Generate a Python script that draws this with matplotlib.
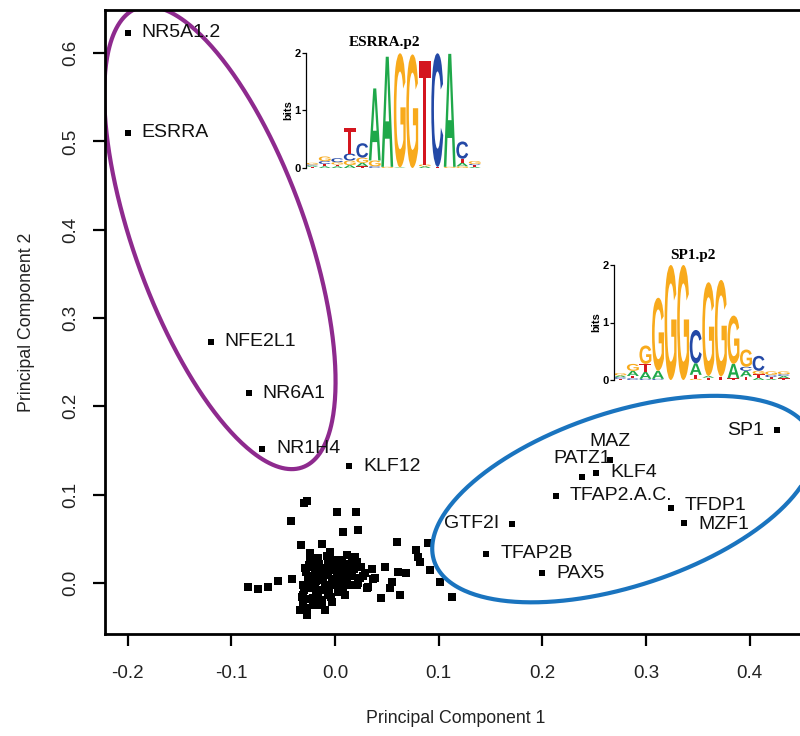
import numpy as np
import matplotlib
matplotlib.use("Agg")
import matplotlib.pyplot as plt
from matplotlib.textpath import TextPath
from matplotlib.patches import PathPatch
from matplotlib.font_manager import FontProperties
import matplotlib.transforms as mtrans

plt.rcParams['font.family'] = ['Liberation Sans', 'DejaVu Sans']
plt.rcParams['axes.unicode_minus'] = False

# named motifs on the first two principal components
names = ['NR5A1.2', 'ESRRA', 'NFE2L1', 'NR6A1', 'NR1H4', 'KLF12', 'SP1', 'MAZ',
         'PATZ1', 'KLF4', 'TFAP2.A.C.', 'TFDP1', 'MZF1', 'GTF2I', 'TFAP2B', 'PAX5']
pc1_named = [-0.200, -0.200, -0.120, -0.083, -0.070, 0.0135, 0.426, 0.265,
             0.238, 0.252, 0.213, 0.324, 0.337, 0.171, 0.146, 0.200]
pc2_named = [0.623, 0.510, 0.273, 0.215, 0.152, 0.132, 0.173, 0.139,
             0.120, 0.125, 0.0985, 0.085, 0.068, 0.067, 0.033, 0.011]
# where each label sits: r = right, l = left, t = above
label_side = ['r', 'r', 'r', 'r', 'r', 'r', 'l', 't',
              't', 'r', 'r', 'r', 'r', 'l', 'r', 'r']
# small vertical nudges (points) for crowded labels
label_dy = [0, 0, 0, 0, 0, 0, 0, 0,
            0, 0, 0, 2, -1, 0, 0, 0]

# remaining motifs (unlabelled)
pc1_other = [-0.030, -0.027, -0.042, 0.002, 0.008, -0.033, -0.013, -0.084, -0.074, -0.065,
             -0.055, -0.041, 0.020, 0.022, 0.060, 0.090, 0.078, 0.080, 0.082, 0.048,
             0.061, 0.068, 0.036, 0.037, 0.027, 0.055, 0.053, 0.063, 0.044, 0.032,
             0.092, 0.101, 0.113, -0.024, -0.029, -0.031, -0.027, -0.021, -0.016, -0.007,
             0.000, 0.012, 0.016, 0.021, 0.029, 0.039, 0.031, 0.021, 0.012, 0.003,
             -0.003, -0.013, -0.019, -0.012, -0.019, -0.007, 0.000, 0.005, -0.010, -0.022,
             -0.026, -0.016, -0.002, -0.007, 0.008, 0.014, 0.024, -0.017, 0.007, -0.031,
             -0.032, -0.021, -0.013, 0.007, 0.019, -0.024, -0.005, -0.014, 0.010, -0.034,
             -0.027, -0.010, -0.031,
             -0.025, -0.020, -0.015, -0.010, -0.005, 0.002, 0.008, 0.010, 0.005, -0.003,
             -0.012, -0.020, -0.028, -0.023, -0.018, -0.010, -0.004, 0.003, 0.015, 0.018,
             0.012, -0.008, -0.016, -0.026, -0.030, -0.025, -0.015, -0.006, 0.000, 0.006,
             -0.012, -0.018, 0.004, -0.001, 0.016, -0.008, -0.020, -0.028, 0.025, 0.022]
pc2_other = [0.091, 0.093, 0.070, 0.080, 0.058, 0.043, 0.044, -0.005, -0.007, -0.005,
             0.002, 0.005, 0.080, 0.060, 0.046, 0.045, 0.037, 0.029, 0.024, 0.018,
             0.012, 0.011, 0.016, 0.005, 0.008, 0.001, -0.006, -0.014, -0.017, -0.005,
             0.015, 0.001, -0.016, 0.026, 0.017, -0.014, -0.034, -0.023, -0.010, 0.009,
             0.026, 0.032, 0.023, 0.024, 0.011, 0.006, -0.006, -0.002, 0.006, -0.010,
             -0.022, -0.025, 0.001, 0.017, 0.012, 0.024, 0.017, 0.007, -0.002, -0.006,
             0.007, 0.006, -0.002, -0.014, -0.005, 0.012, 0.006, 0.020, 0.020, -0.002,
             -0.016, -0.017, -0.019, 0.026, 0.029, 0.034, 0.035, -0.008, -0.014, -0.031,
             -0.036, -0.031, -0.025,
             0.020, 0.018, 0.022, 0.010, 0.015, 0.012, 0.015, 0.002, -0.002, 0.004,
             0.003, 0.008, 0.012, -0.002, -0.012, -0.008, -0.016, -0.006, -0.002, 0.016,
             0.022, 0.030, 0.028, 0.004, -0.008, -0.018, -0.020, -0.010, 0.000, 0.004,
             0.014, 0.002, 0.020, 0.025, 0.008, -0.002, -0.025, -0.028, 0.018, 0.000]

x_ticks = [-0.2, -0.1, 0.0, 0.1, 0.2, 0.3, 0.4]
y_ticks = [0.0, 0.1, 0.2, 0.3, 0.4, 0.5, 0.6]

# cluster outlines: centre (PC1, PC2), semi-axes and tilt in screen pixels
ell_purple = dict(center=(-0.111, 0.391), a=244, b=86, angle=109.8, color='#8e2a8e')
ell_blue = dict(center=(0.278, 0.095), a=199, b=87, angle=18.1, color='#1a74bf')

# motif logos: one list of (base, bits) per position, stacked bottom-up
esrra_logo = [
    [('T', 0.02), ('A', 0.02), ('C', 0.02), ('G', 0.03)],
    [('A', 0.03), ('T', 0.04), ('C', 0.05), ('G', 0.08)],
    [('A', 0.03), ('T', 0.03), ('G', 0.04), ('C', 0.07)],
    [('A', 0.05), ('G', 0.08), ('C', 0.12), ('T', 0.45)],
    [('T', 0.03), ('A', 0.06), ('G', 0.09), ('C', 0.25)],
    [('C', 0.03), ('G', 0.10), ('A', 1.25)],
    [('G', 0.02), ('A', 1.91)],
    [('A', 0.01), ('G', 1.98)],
    [('G', 1.97)],
    [('A', 0.03), ('G', 0.03), ('T', 1.79)],
    [('T', 0.02), ('C', 1.97)],
    [('G', 0.02), ('A', 1.96)],
    [('G', 0.03), ('A', 0.06), ('T', 0.07), ('C', 0.30)],
    [('A', 0.02), ('T', 0.03), ('C', 0.02), ('G', 0.05)],
]
sp1_logo = [
    [('T', 0.02), ('C', 0.03), ('A', 0.03), ('G', 0.04)],
    [('C', 0.03), ('T', 0.04), ('A', 0.09), ('G', 0.12)],
    [('C', 0.02), ('A', 0.12), ('T', 0.14), ('G', 0.32)],
    [('C', 0.02), ('A', 0.14), ('G', 1.27)],
    [('G', 2.00)],
    [('G', 2.00)],
    [('G', 0.02), ('T', 0.07), ('A', 0.20), ('C', 0.58)],
    [('T', 0.04), ('A', 0.03), ('G', 1.63)],
    [('T', 0.06), ('G', 1.68)],
    [('T', 0.03), ('A', 0.25), ('G', 0.84)],
    [('T', 0.06), ('A', 0.10), ('C', 0.07), ('G', 0.30)],
    [('A', 0.04), ('T', 0.06), ('G', 0.06), ('C', 0.26)],
    [('A', 0.02), ('T', 0.03), ('C', 0.04), ('G', 0.06)],
    [('T', 0.03), ('A', 0.04), ('C', 0.03), ('G', 0.05)],
]
base_colors = {'A': '#1fa84a', 'C': '#2449a6', 'G': '#f8aa1c', 'T': '#d4161f'}

W, H = 800, 736
fig = plt.figure(figsize=(W / 100, H / 100), dpi=100)
fig.patch.set_facecolor('white')

ax = fig.add_axes([105 / W, 102 / H, 701 / W, 624 / H])
ax.set_xlim(-0.2218, 0.4542)
ax.set_ylim(-0.0578, 0.6489)

ax.plot(pc1_other, pc2_other, 's', color='black', ms=5.2, mew=0)
ax.plot(pc1_named, pc2_named, 's', color='black', ms=4.4, mew=0)

for name, x, y, side, dy in zip(names, pc1_named, pc2_named, label_side, label_dy):
    if side == 'r':
        off, ha, va = (10, dy), 'left', 'center'
    elif side == 'l':
        off, ha, va = (-9.5, dy), 'right', 'center'
    else:
        off, ha, va = (0, 13.5 + dy), 'center', 'center'
    ax.annotate(name, (x, y), xytext=off, textcoords='offset points',
                ha=ha, va=va, fontsize=14, color='#111111')


def draw_ellipse(ax, center, a, b, angle, color):
    # build the outline in screen pixels, then map back to data units
    cx, cy = ax.transData.transform(center)
    t = np.linspace(0, 2 * np.pi, 400)
    th = np.deg2rad(angle)
    px = cx + a * np.cos(t) * np.cos(th) - b * np.sin(t) * np.sin(th)
    py = cy + a * np.cos(t) * np.sin(th) + b * np.sin(t) * np.cos(th)
    pts = ax.transData.inverted().transform(np.column_stack([px, py]))
    ax.plot(pts[:, 0], pts[:, 1], color=color, lw=3.0, solid_capstyle='round')


for e in (ell_purple, ell_blue):
    draw_ellipse(ax, e['center'], e['a'], e['b'], e['angle'], e['color'])

ax.set_xticks(x_ticks)
ax.set_xticklabels(['%.1f' % v for v in x_ticks])
ax.set_yticks(y_ticks)
ax.set_yticklabels(['%.1f' % v for v in y_ticks], rotation=90, va='center')
ax.tick_params(axis='both', direction='out', length=8.5, width=1.6,
               labelsize=13.5, colors='black', labelcolor='#222222')
ax.tick_params(axis='x', pad=14)
ax.tick_params(axis='y', pad=10)
for s in ax.spines.values():
    s.set_linewidth(2.0)
ax.set_xlabel('Principal Component 1', fontsize=12.8, labelpad=20, color='#222222')
ax.set_ylabel('Principal Component 2', fontsize=12.8, labelpad=20, color='#222222')

logo_font = FontProperties(family='Liberation Sans', weight='bold')


def draw_letter(lax, ch, x, y, w, h, color):
    tp = TextPath((0, 0), ch, size=1, prop=logo_font)
    bb = tp.get_extents()
    tr = (mtrans.Affine2D().translate(-bb.x0, -bb.y0)
          .scale(w / bb.width, h / bb.height).translate(x - w / 2, y))
    lax.add_patch(PathPatch(tr.transform_path(tp), fc=color, ec='none'))


def draw_logo(rect, columns, title):
    lax = fig.add_axes(rect)
    lax.patch.set_alpha(0)
    lax.set_xlim(0.5, len(columns) + 0.5)
    lax.set_ylim(0, 2)
    for i, col in enumerate(columns, start=1):
        y0 = 0.0
        for base, h in col:
            draw_letter(lax, base, i, y0, 0.95, h, base_colors[base])
            y0 += h
    for side in ('top', 'right', 'bottom'):
        lax.spines[side].set_visible(False)
    lax.spines['left'].set_linewidth(0.9)
    lax.spines['left'].set_bounds(0, 2)
    lax.set_xticks([])
    lax.set_yticks([0, 1, 2])
    lax.tick_params(axis='y', length=3, width=0.9, pad=1, labelsize=8)
    for lab in lax.get_yticklabels():
        lab.set_fontweight('bold')
    lax.set_ylabel('bits', fontsize=8, fontweight='bold', labelpad=1)
    lax.text(0.45, 1.03, title, transform=lax.transAxes, ha='center', va='bottom',
             fontsize=11, fontweight='bold', family='Liberation Serif')
    return lax


draw_logo([306 / W, (H - 168) / H, 175 / W, 115.3 / H], esrra_logo, 'ESRRA.p2')
draw_logo([614 / W, (H - 380) / H, 176 / W, 115 / H], sp1_logo, 'SP1.p2')

fig.savefig('out.png', dpi=100, facecolor='white')
